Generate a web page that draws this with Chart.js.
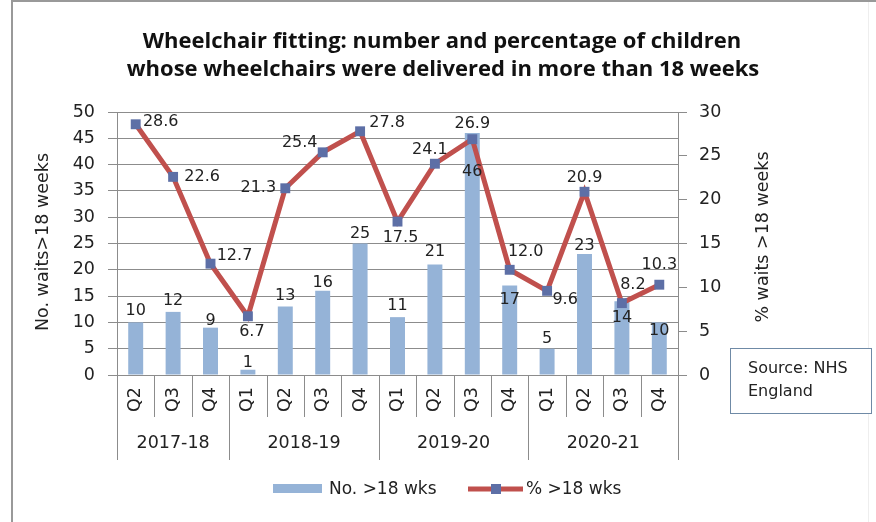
<!DOCTYPE html>
<html>
<head>
<meta charset="utf-8">
<script src="https://cdn.jsdelivr.net/npm/chart.js@4.4.1/dist/chart.umd.min.js"></script>
<style>
  html, body { margin: 0; padding: 0; background: #fff; }
</style>
</head>
<body>
<canvas id="chart" width="876" height="522"></canvas>
<script>
// data
const quarters = ['Q2', 'Q3', 'Q4', 'Q1', 'Q2', 'Q3', 'Q4', 'Q1', 'Q2', 'Q3', 'Q4', 'Q1', 'Q2', 'Q3', 'Q4'];
const years = ['2017-18', '2018-19', '2019-20', '2020-21'];
const quartersPerYear = [3, 4, 4, 4];
const waitsOver18 = [10, 12, 9, 1, 13, 16, 25, 11, 21, 46, 17, 5, 23, 14, 10];
const pctOver18 = [28.6, 22.6, 12.7, 6.7, 21.3, 25.4, 27.8, 17.5, 24.1, 26.9, 12.0, 9.6, 20.9, 8.2, 10.3];

const FONT = 'DejaVu Sans';
const GRID = '#8c8c8c';
const BAR = '#95b3d7';
const LINE = '#c0504d';
const MARKER = '#5d6fa6';

// where the value labels sit relative to their mark (px)
const barLabelDy = [-12, -11, -7, -7, -11, -8, -10, -11, -13, 39, 14, -10, -8, 16, 8];
const lineLabelOff = [[25, -2], [29, 0], [24, -8], [4, 16], [-27, 0], [-23, -9], [27, -8], [3, 16],
                      [-5, -14], [0, -15], [16, -18], [18, 9], [0, -14], [11, -18], [0, -20]];

const extras = {
  id: 'extras',
  afterDatasetsDraw(chart) {
    const ctx = chart.ctx;
    ctx.save();
    ctx.font = '16px "' + FONT + '"';
    ctx.fillStyle = '#222';
    ctx.textAlign = 'center';
    ctx.textBaseline = 'middle';
    chart.getDatasetMeta(1).data.forEach((bar, i) => {
      ctx.fillText(String(waitsOver18[i]), bar.x, bar.y + barLabelDy[i]);
    });
    chart.getDatasetMeta(0).data.forEach((pt, i) => {
      ctx.fillText(pctOver18[i].toFixed(1), pt.x + lineLabelOff[i][0], pt.y + lineLabelOff[i][1]);
    });
    ctx.restore();
  },
  afterDraw(chart) {
    const ctx = chart.ctx;
    const xs = chart.scales.x;
    const area = chart.chartArea;
    ctx.save();

    // frame
    ctx.strokeStyle = '#999';
    ctx.lineWidth = 2;
    ctx.beginPath();
    ctx.moveTo(12, 522); ctx.lineTo(12, 1); ctx.lineTo(876, 1);
    ctx.stroke();
    ctx.strokeStyle = '#eee';
    ctx.lineWidth = 1;
    ctx.beginPath();
    ctx.moveTo(868.5, 2); ctx.lineTo(868.5, 522);
    ctx.stroke();

    // title
    ctx.fillStyle = '#111';
    ctx.textAlign = 'center';
    ctx.textBaseline = 'middle';
    ctx.font = 'bold 22px "Open Sans"';
    ctx.fillText('Wheelchair fitting: number and percentage of children', 442, 42);
    ctx.fillText('whose wheelchairs were delivered in more than 18 weeks', 443, 70);

    // axis titles
    ctx.font = '17.5px "' + FONT + '"';
    ctx.fillStyle = '#222';
    ctx.save();
    ctx.translate(43, 242);
    ctx.rotate(-Math.PI / 2);
    ctx.fillText('No. waits>18 weeks', 0, 0);
    ctx.restore();
    ctx.save();
    ctx.translate(763, 237);
    ctx.rotate(-Math.PI / 2);
    ctx.fillText('% waits >18 weeks', 0, 0);
    ctx.restore();

    // category separators and year groups
    const step = xs.getPixelForValue(1) - xs.getPixelForValue(0);
    const edges = [0];
    quartersPerYear.forEach(n => edges.push(edges[edges.length - 1] + n));
    ctx.strokeStyle = GRID;
    ctx.lineWidth = 1;
    for (let i = 0; i <= quarters.length; i++) {
      const x = Math.round(xs.getPixelForValue(i) - step / 2) + 0.5;
      const long = edges.includes(i);
      ctx.beginPath();
      ctx.moveTo(x, area.bottom);
      ctx.lineTo(x, long ? 460 : 417);
      ctx.stroke();
    }
    years.forEach((yr, g) => {
      const x0 = xs.getPixelForValue(edges[g]) - step / 2;
      const x1 = xs.getPixelForValue(edges[g + 1]) - step / 2;
      ctx.fillText(yr, (x0 + x1) / 2, 443);
    });

    // legend
    ctx.font = '17px "' + FONT + '"';
    ctx.textAlign = 'left';
    ctx.fillStyle = BAR;
    ctx.fillRect(273, 484, 49, 9);
    ctx.fillStyle = '#222';
    ctx.fillText(chart.data.datasets[1].label, 329, 490);
    ctx.strokeStyle = LINE;
    ctx.lineWidth = 5;
    ctx.beginPath();
    ctx.moveTo(468, 489); ctx.lineTo(523, 489);
    ctx.stroke();
    ctx.fillStyle = MARKER;
    ctx.fillRect(491, 484, 10, 10);
    ctx.fillStyle = '#222';
    ctx.fillText(chart.data.datasets[0].label, 526, 490);

    // source box
    ctx.font = '16px "' + FONT + '"';
    ctx.fillStyle = '#fff';
    ctx.fillRect(730, 348, 142, 66);
    ctx.strokeStyle = '#6f8aa6';
    ctx.lineWidth = 1;
    ctx.strokeRect(730.5, 348.5, 141, 65);
    ctx.fillStyle = '#222';
    ctx.fillText('Source: NHS', 748, 369);
    ctx.fillText('England', 748, 392);

    ctx.restore();
  }
};

new Chart(document.querySelector('#chart'), {
  data: {
    labels: quarters,
    datasets: [
      {
        type: 'line',
        label: '% >18 wks',
        data: pctOver18,
        yAxisID: 'y1',
        borderColor: LINE,
        borderWidth: 5,
        pointStyle: 'rect',
        pointRadius: 7,
        pointBackgroundColor: MARKER,
        pointBorderWidth: 0,
        tension: 0,
        order: 0
      },
      {
        type: 'bar',
        label: 'No. >18 wks',
        data: waitsOver18,
        yAxisID: 'y',
        backgroundColor: BAR,
        categoryPercentage: 1,
        barPercentage: 0.4,
        order: 1
      }
    ]
  },
  options: {
    responsive: false,
    animation: false,
    layout: { padding: { left: 12, right: 0, top: 112, bottom: 62 } },
    plugins: {
      legend: { display: false },
      tooltip: { enabled: false }
    },
    scales: {
      x: {
        offset: true,
        grid: { display: false, drawTicks: false },
        border: { display: true, color: GRID },
        ticks: {
          autoSkip: false, minRotation: 90, maxRotation: 90, padding: 12,
          color: '#222', font: { family: FONT, size: 17.5 }
        },
        afterFit: s => { s.height = 85; }
      },
      y: {
        position: 'left', min: 0, max: 50,
        grid: { color: GRID, tickLength: 9 },
        border: { color: GRID },
        ticks: { stepSize: 5, padding: 13, color: '#222', font: { family: FONT, size: 17.5 } },
        afterFit: s => { s.width = 105; }
      },
      y1: {
        position: 'right', min: 0, max: 30,
        grid: { drawOnChartArea: false, color: GRID, tickLength: 9 },
        border: { color: GRID },
        ticks: { stepSize: 5, padding: 12, color: '#222', font: { family: FONT, size: 17.5 } },
        afterFit: s => { s.width = 198; }
      }
    }
  },
  plugins: [extras]
});
</script>
</body>
</html>
